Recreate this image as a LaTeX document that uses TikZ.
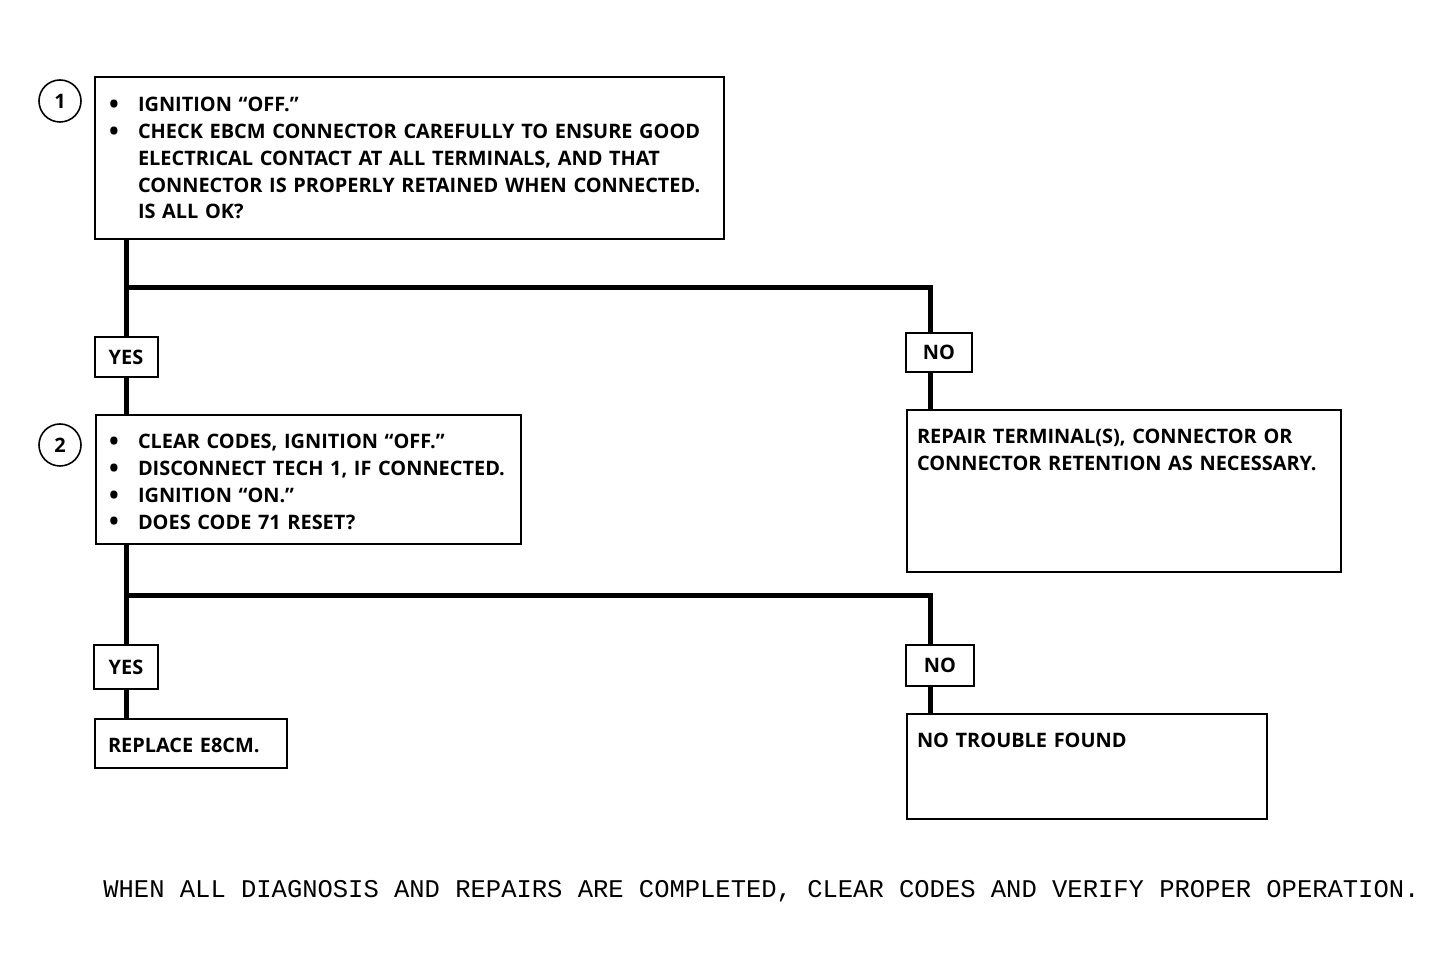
\documentclass[tikz,border=0pt]{standalone}
\usepackage{fontspec}
\setmainfont{Open Sans}
\newfontfamily\notefont{Liberation Mono}
\newcommand{\itemdot}{\makebox[14.5bp][l]{\raisebox{-0.9bp}{\fontsize{13}{13}\selectfont\textbullet}}}
\newcommand{\itemgap}{\hspace*{14.5bp}}

\begin{document}
\begin{tikzpicture}[line join=miter,
  box/.style={draw,line width=1bp,anchor=north west,inner ysep=0bp,align=left,font=\fontsize{10}{13.4}\selectfont\bfseries},
  tag/.style={draw,line width=1bp,inner sep=0bp,font=\fontsize{10}{12}\selectfont\bfseries},
  num/.style={draw,circle,line width=0.8bp,minimum size=21bp,inner sep=0bp,font=\fontsize{10}{12}\selectfont\bfseries},
  flow/.style={line width=2.5bp},]
\useasboundingbox (0bp,0bp) rectangle (726.5bp,488.5bp);
%%
\node (node_c1) at (30bp,438bp) [num] {1};
  \node (node_1) at (47bp,450.5bp) [box,inner xsep=7bp,text width=300.5bp,text height=17.5bp,text depth=63.5bp] {\itemdot IGNITION “OFF.”\\
    \itemdot CHECK EBCM CONNECTOR CAREFULLY TO ENSURE GOOD\\
    \itemgap ELECTRICAL CONTACT AT ALL TERMINALS, AND THAT\\
    \itemgap CONNECTOR IS PROPERLY RETAINED WHEN CONNECTED.\\
    \itemgap IS ALL OK?};
  \node (node_yes1) at (63bp,310bp) [tag,minimum width=31.5bp,minimum height=20bp] {YES};
  \node (node_no1) at (469.5bp,312.25bp) [tag,minimum width=33bp,minimum height=19.5bp] {NO};
  \node (node_c2) at (30bp,266bp) [num] {2};
  \node (node_2) at (47.5bp,281.5bp) [box,inner xsep=6.5bp,text width=199.5bp,text height=17bp,text depth=47.5bp] {\itemdot CLEAR CODES, IGNITION “OFF.”\\
    \itemdot DISCONNECT TECH 1, IF CONNECTED.\\
    \itemdot IGNITION “ON.”\\
    \itemdot DOES CODE 71 RESET?};
  \node (node_repair) at (453bp,284bp) [box,inner xsep=5bp,text width=207bp,text height=17bp,text depth=64bp] {REPAIR TERMINAL(S), CONNECTOR OR\\
    CONNECTOR RETENTION AS NECESSARY.};
  \node (node_yes2) at (63bp,155bp) [tag,minimum width=32bp,minimum height=22bp] {YES};
  \node (node_no2) at (470bp,155.75bp) [tag,minimum width=34bp,minimum height=20.5bp] {NO};
  \node (node_replace) at (47bp,129.5bp) [box,inner xsep=6.5bp,text width=83bp,text height=17bp,text depth=7.5bp] {REPLACE E8CM.};
  \node (node_ntf) at (453bp,132bp) [box,inner xsep=5bp,text width=170bp,text height=17bp,text depth=35.5bp] {NO TROUBLE FOUND};
  \node (node_note) at (380.75bp,43bp) [font=\notefont\fontsize{12.8}{14}\selectfont] {WHEN ALL DIAGNOSIS AND REPAIRS ARE COMPLETED, CLEAR CODES AND VERIFY PROPER OPERATION.};
  \coordinate (fork_1) at (465bp,344.5bp);
  \coordinate (fork_2) at (465bp,190.5bp);
  \draw [flow] (node_yes1.north |- node_1.south) -- (node_yes1.north);
  \draw [flow] (node_yes1.south) -- (node_yes1.south |- node_2.north);
  \draw [flow] (node_yes1.north |- fork_1) -- (fork_1) -- (fork_1 |- node_no1.north);
  \draw [flow] (fork_1 |- node_no1.south) -- (fork_1 |- node_repair.north);
  \draw [flow] (node_yes2.north |- node_2.south) -- (node_yes2.north);
  \draw [flow] (node_yes2.south) -- (node_yes2.south |- node_replace.north);
  \draw [flow] (node_yes2.north |- fork_2) -- (fork_2) -- (fork_2 |- node_no2.north);
  \draw [flow] (fork_2 |- node_no2.south) -- (fork_2 |- node_ntf.north);
%
\end{tikzpicture}
\end{document}
